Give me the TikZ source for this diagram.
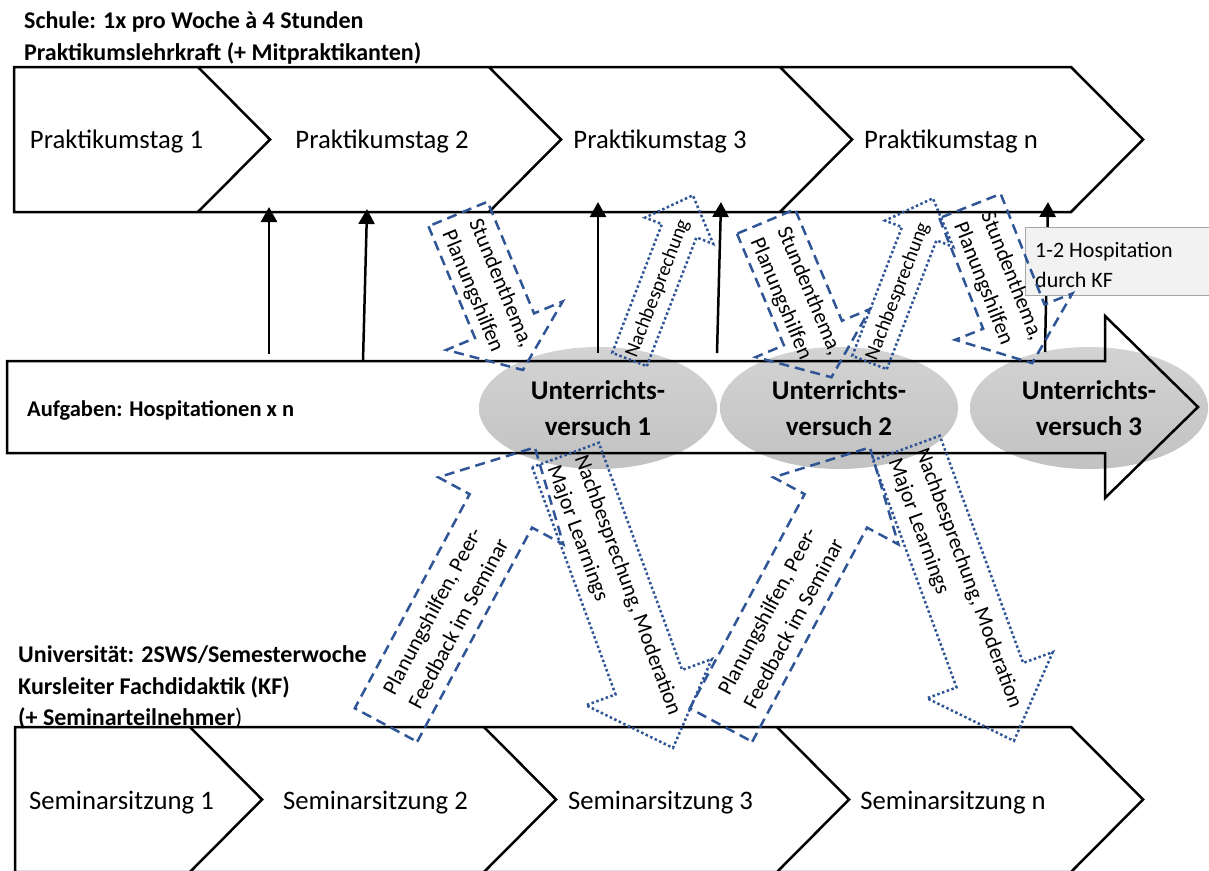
\documentclass[tikz,border=0pt]{standalone}
\usepackage{fontspec}
\setmainfont{Carlito}
\usetikzlibrary{arrows.meta,shapes.geometric}

\definecolor{flowblue}{HTML}{2F5597}
\definecolor{ovaltop}{HTML}{D3D3D3}
\definecolor{ovalbottom}{HTML}{C2C2C2}
\definecolor{notefill}{HTML}{F2F2F2}
\definecolor{noteline}{HTML}{A6A6A6}

\newcommand\fsz[2]{\fontsize{#1pt}{#2pt}\selectfont}
% block arrow along the local x axis: style, body length, body half width, head length, head half width
\newcommand\blockarrow[5]{\draw[#1] (0,-#3) -- (#2,-#3) -- (#2,-#5) -- ({#2+#4},0) -- (#2,#5) -- (#2,#3) -- (0,#3) -- cycle;}

\tikzset{
  frame/.style={line width=2.5pt, draw=black, line join=miter},
  dashflow/.style={draw=flowblue, line width=2.5pt, dash pattern=on 10pt off 6pt, line join=miter},
  dotflow/.style={draw=flowblue, line width=2.5pt, dash pattern=on 2.5pt off 2.5pt, line join=miter},
  headline/.style={font=\bfseries\fsz{24}{32}, inner sep=0pt, anchor=base west},
  steptext/.style={font=\fsz{26.7}{32}, inner sep=0pt, anchor=base},
  oval/.style={ellipse, minimum width=238pt, minimum height=122pt, inner sep=0pt,
    top color=ovaltop, bottom color=ovalbottom, draw=none, align=center,
    font=\bfseries\fsz{27}{36}},
  flowtext/.style={font=\fsz{21.8}{29}, align=left, inner sep=0pt, transform shape, anchor=west},
  smallflow/.style={font=\fsz{20}{24}, inner sep=0pt, transform shape, anchor=west},
  uparrow/.style={line width=2.5pt, draw=black, -{Triangle[width=16pt,length=15pt]}},
  notetext/.style={font=\fsz{22}{26}, inner sep=0pt, anchor=base west},
}

\begin{document}
\begin{tikzpicture}[x=1pt, y=-1pt]
\path[use as bounding box, fill=white] (0,0) rectangle (1209,870);

% headings
\node[headline] (schule1) at (24,28) {Schule: 1x pro Woche à 4 Stunden};
\node[headline] (schule2) at (24,60) {Praktikumslehrkraft (+ Mitpraktikanten)};
\node[headline] (uni1) at (18,662) {Universität: 2SWS/Semesterwoche};
\node[headline] (uni2) at (18,694) {Kursleiter Fachdidaktik (KF)};
\node[headline] (uni3) at (18,725) {(+ Seminarteilnehmer\mdseries)};

% school days
\draw[frame] (1071,67) -- (14,67) -- (14,212) -- (1071,212) -- (1143,139.5) -- cycle;
\foreach \n in {198,489,780} \draw[frame] (\n,67) -- (\n+72,139.5) -- (\n,212);
\node[steptext] (tag1) at (116.5,148) {Praktikumstag 1};
\node[steptext] (tag2) at (382,148) {Praktikumstag 2};
\node[steptext] (tag3) at (660,148) {Praktikumstag 3};
\node[steptext] (tagn) at (951,148) {Praktikumstag n};

% seminar sessions
\draw[frame] (1071,727) -- (15,727) -- (15,872) -- (1071,872) -- (1143,799.5) -- cycle;
\foreach \n in {190,484,777} \draw[frame] (\n,727) -- (\n+72,799.5) -- (\n,872);
\node[steptext] (sem1) at (121.5,809) {Seminarsitzung 1};
\node[steptext] (sem2) at (375.5,809) {Seminarsitzung 2};
\node[steptext] (sem3) at (660.5,809) {Seminarsitzung 3};
\node[steptext] (semn) at (953,809) {Seminarsitzung n};

% teaching attempts
\node[oval] (uv1) at (598,408) {Unterrichts-\\versuch 1};
\node[oval] (uv2) at (839,408) {Unterrichts-\\versuch 2};
\node[oval] (uv3) at (1089,408) {Unterrichts-\\versuch 3};

% task band
\draw[frame] (7,361) -- (1105,361) -- (1105,316) -- (1198,407) -- (1105,498) -- (1105,453) -- (7,453) -- cycle;
\node[headline, font=\bfseries\fsz{22.5}{30}] (aufg) at (27,416) {Aufgaben: Hospitationen x n};

% observations feeding the school days
\coordinate (v1s) at (269,354); \coordinate (v1e) at (269,207);
\coordinate (v2s) at (363,361); \coordinate (v2e) at (367,209);
\coordinate (v3s) at (598,353); \coordinate (v3e) at (598,202);
\coordinate (v4s) at (717,353); \coordinate (v4e) at (721,202);
\coordinate (v5s) at (1045,352); \coordinate (v5e) at (1048,202);
\draw[uparrow] (v1s) -- (v1e);
\draw[uparrow] (v2s) -- (v2e);
\draw[uparrow] (v3s) -- (v3e);
\draw[uparrow] (v4s) -- (v4e);
\draw[uparrow] (v5s) -- (v5e);

% visit note
\node[draw=noteline, fill=notefill, line width=1pt, anchor=north west,
      minimum width=190pt, minimum height=68pt, inner sep=0pt] (hospbox) at (1025,227) {};
\node[notetext] (hosp1) at (1035,257) {1-2 Hospitation};
\node[notetext] (hosp2) at (1035,287) {durch KF};

% school side flows
\begin{scope}[shift={(458,214)}, rotate=-67.4, x=1pt, y=1pt]
  \blockarrow{dashflow}{121}{32}{48}{63}
  \node[flowtext] (flowA1) at (12,-2) {Stundenthema,\\Planungshilfen};
\end{scope}
\begin{scope}[shift={(629.5,359.5)}, rotate=68.9, x=1pt, y=1pt]
  \blockarrow{dotflow}{138}{18.5}{38}{36.5}
  \node[smallflow] (flowA2) at (3,-1) {Nachbesprechung};
\end{scope}
\begin{scope}[shift={(766,221.5)}, rotate=-67.2, x=1pt, y=1pt]
  \blockarrow{dashflow}{121}{31.5}{48}{62}
  \node[flowtext] (flowA3) at (12,-2) {Stundenthema,\\Planungshilfen};
\end{scope}
\begin{scope}[shift={(869.5,362.5)}, rotate=68.9, x=1pt, y=1pt]
  \blockarrow{dotflow}{138}{18.5}{38}{36.5}
  \node[smallflow] (flowA4) at (3,-1) {Nachbesprechung};
\end{scope}
\begin{scope}[shift={(970,206)}, rotate=-68.4, x=1pt, y=1pt]
  \blockarrow{dashflow}{119}{33}{50}{63}
  \node[flowtext] (flowA5) at (12,-2) {Stundenthema,\\Planungshilfen};
\end{scope}

% seminar side flows
\begin{scope}[shift={(386,725)}, rotate=61.8, x=1pt, y=1pt]
  \blockarrow{dashflow}{243}{35.4}{72}{71}
  \node[flowtext] (flowB1) at (29,-1) {Planungshilfen, Peer-\\Feedback im Seminar};
\end{scope}
\begin{scope}[shift={(565.5,455)}, rotate=-69.85, x=1pt, y=1pt]
  \blockarrow{dotflow}{242}{35.5}{70}{67}
  \node[flowtext] (flowB2) at (6,-1.5) {Nachbesprechung, Moderation\\Major Learnings};
\end{scope}
\begin{scope}[shift={(721,725)}, rotate=61.8, x=1pt, y=1pt]
  \blockarrow{dashflow}{243}{35.4}{72}{71}
  \node[flowtext] (flowB3) at (29,-1) {Planungshilfen, Peer-\\Feedback im Seminar};
\end{scope}
\begin{scope}[shift={(906.5,448)}, rotate=-69.85, x=1pt, y=1pt]
  \blockarrow{dotflow}{242}{35.5}{70}{67}
  \node[flowtext] (flowB4) at (6,-1.5) {Nachbesprechung, Moderation\\Major Learnings};
\end{scope}
\end{tikzpicture}
\end{document}
